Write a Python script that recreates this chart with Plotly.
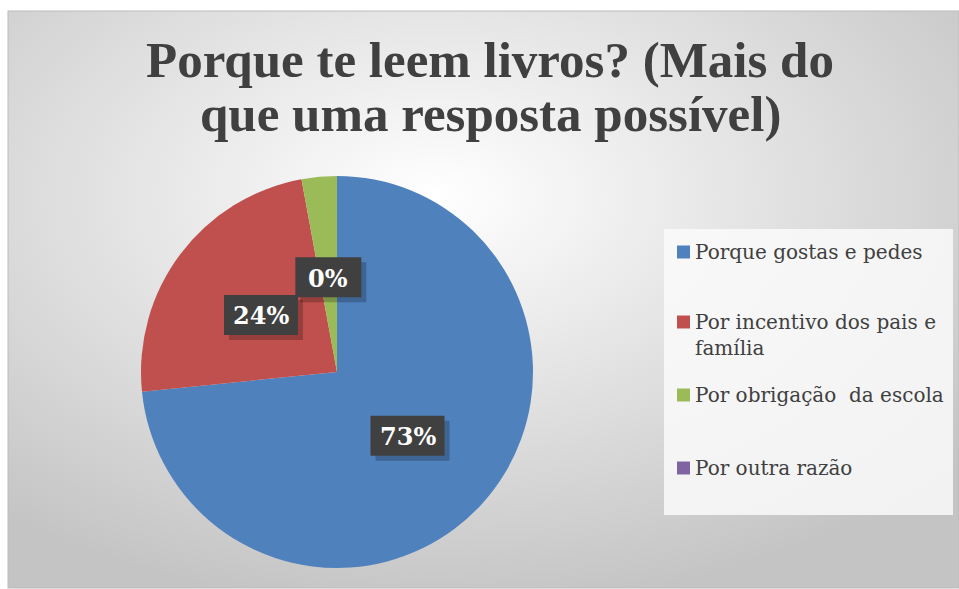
import base64, math, textwrap
import plotly.graph_objects as go

# ---- data ----
categories = ["Porque gostas e pedes", "Por incentivo dos pais e família",
              "Por obrigação  da escola", "Por outra razão"]
values = [73.4, 23.7, 2.9, 0]
colors = ["#4F81BD", "#C0504D", "#9BBB59", "#8064A2"]
title_lines = ["Porque te leem livros? (Mais do", "que uma resposta possível)"]

W, H = 959, 589

def px2x(p):
    return p / W

def px2y(p):
    return 1 - p / H

# pie placement (pixels)
cx, cy, R = 337, 372, 196
dom_x = [px2x(cx - R), px2x(cx + R)]
dom_y = [px2y(cy + R), px2y(cy - R)]

fig = go.Figure(go.Pie(
    labels=categories, values=values, sort=False, direction="clockwise",
    rotation=0, marker=dict(colors=colors, line=dict(width=0)),
    textinfo="none", hoverinfo="label+percent", showlegend=False,
    domain=dict(x=dom_x, y=dom_y),
))

# background gradient (SVG)
svg = f'''<svg xmlns="http://www.w3.org/2000/svg" width="{W}" height="{H}">
<defs><radialGradient id="g" cx="0.45" cy="0.32" r="0.72">
<stop offset="0" stop-color="#ffffff"/><stop offset="1" stop-color="#c4c4c4"/></radialGradient></defs>
<rect x="0" y="0" width="{W}" height="{H}" fill="#ffffff"/>
<rect x="8" y="11" width="{W-8}" height="{H-12}" fill="url(#g)" stroke="#bcbcbc" stroke-width="1"/>
</svg>'''
src = "data:image/svg+xml;base64," + base64.b64encode(svg.encode()).decode()

shapes = []
annotations = []

# title (two lines, tight spacing)
for k, line in enumerate(title_lines):
    annotations.append(dict(xref="paper", yref="paper", x=px2x(490), y=px2y(60 + 54 * k),
                            xanchor="center", yanchor="middle", showarrow=False,
                            text=f"<b>{line}</b>",
                            font=dict(family="Liberation Serif", size=51, color="#404040")))

# legend box
lx0, ly0, lx1, ly1 = 664, 229, 953, 515
shapes.append(dict(type="rect", xref="paper", yref="paper", x0=px2x(lx0), x1=px2x(lx1),
                   y0=px2y(ly1), y1=px2y(ly0), fillcolor="rgba(250,250,250,0.85)",
                   line=dict(width=0), layer="below"))
leg_y = [252, 322, 395, 468]
for i, (cat, col) in enumerate(zip(categories, colors)):
    yc = leg_y[i]
    shapes.append(dict(type="rect", xref="paper", yref="paper", x0=px2x(677), x1=px2x(690),
                       y0=px2y(yc + 6.5), y1=px2y(yc - 6.5), fillcolor=col,
                       line=dict(width=0)))
    txt = "<br>".join(textwrap.wrap(cat, 24))
    annotations.append(dict(xref="paper", yref="paper", x=px2x(693), y=px2y(yc - 14),
                            xanchor="left", yanchor="top", align="left", showarrow=False,
                            text=txt, font=dict(family="DejaVu Serif", size=20, color="#404040")))

# data labels
total = sum(values)
start = 0.0
mids = []
for v in values:
    frac = v / total
    mids.append(start + frac / 2)
    start += frac
lr = 0.485 * R
last_nonzero = 0
positions = []
for i, v in enumerate(values):
    if v > 0:
        last_nonzero = i
        ang = mids[i] * 2 * math.pi
    else:
        ang = mids[last_nonzero] * 2 * math.pi
    positions.append((cx + lr * math.sin(ang), cy - lr * math.cos(ang)))

for i, v in enumerate(values):
    # a label fully covered by the following (zero-size slice) label is not visible
    if i + 1 < len(values) and positions[i + 1] == positions[i]:
        continue
    px, py = positions[i]
    label = f"{round(v / total * 100)}%"
    ndig = len(label) - 1
    bw, bh = 58 + 8 * ndig, 40
    shapes.append(dict(type="rect", xref="paper", yref="paper",
                       x0=px2x(px - bw / 2 + 5), x1=px2x(px + bw / 2 + 5),
                       y0=px2y(py + bh / 2 + 5), y1=px2y(py - bh / 2 + 5),
                       fillcolor="rgba(0,0,0,0.22)", line=dict(width=0)))
    shapes.append(dict(type="rect", xref="paper", yref="paper",
                       x0=px2x(px - bw / 2), x1=px2x(px + bw / 2),
                       y0=px2y(py + bh / 2), y1=px2y(py - bh / 2),
                       fillcolor="#404040", line=dict(width=0)))
    annotations.append(dict(xref="paper", yref="paper", showarrow=False, xanchor="center",
                            yanchor="middle", x=px2x(px), y=px2y(py + 1), text=f"<b>{label}</b>",
                            font=dict(family="DejaVu Serif", size=24, color="#ffffff")))

fig.update_layout(
    width=W, height=H, margin=dict(l=0, r=0, t=0, b=0),
    paper_bgcolor="#ffffff", plot_bgcolor="rgba(0,0,0,0)",
    images=[dict(source=src, xref="paper", yref="paper", x=0, y=1, sizex=1, sizey=1,
                 xanchor="left", yanchor="top", sizing="stretch", layer="below")],
    shapes=shapes, annotations=annotations,
)
fig.write_html("out.html", config={"displayModeBar": False},
               post_script="document.body.style.margin='0px';")
